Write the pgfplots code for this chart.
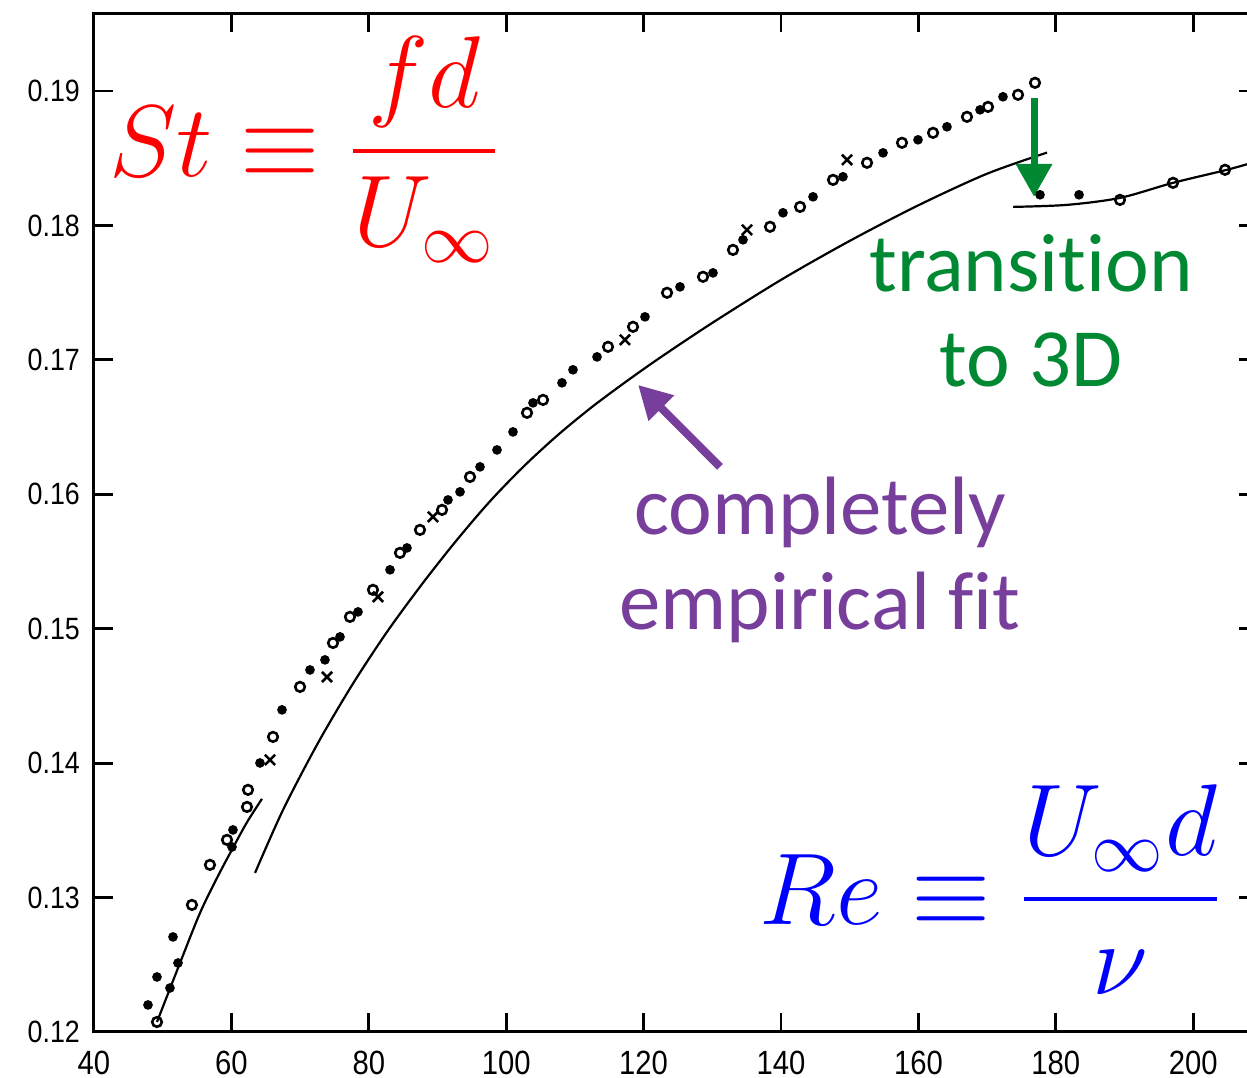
\RequirePackage{fix-cm}
\documentclass[border=0pt]{standalone}
\usepackage{exscale}
\usepackage{fontspec}
\usepackage{graphicx}
\usepackage{pgfplots}
\pgfplotsset{compat=1.18}
\usepackage{pgfplotstable}
\usetikzlibrary{arrows.meta}
\newfontfamily\annfont[Ligatures={NoCommon}]{Carlito}
\newfontfamily\tickfont{Liberation Sans}
\definecolor{annGreen}{RGB}{0,137,50}
\definecolor{annPurple}{RGB}{120,62,155}
\newcommand\ytl[1]{\scalebox{0.87}[1]{#1}}

\pgfplotstableread{
x y
49.17 0.12074
54.26 0.12945
56.88 0.13243
59.36 0.13429
62.27 0.13674
62.42 0.13801
66.06 0.14195
69.99 0.14567
74.79 0.14894
77.26 0.15088
80.61 0.15289
84.54 0.15564
87.45 0.15735
90.66 0.15884
94.73 0.16129
103.03 0.16606
105.36 0.16702
114.82 0.17097
118.46 0.17246
123.41 0.17499
128.65 0.17618
133.01 0.17818
138.40 0.17990
142.77 0.18138
147.57 0.18339
152.52 0.18466
157.61 0.18615
162.13 0.18689
167.07 0.18808
170.13 0.18882
174.50 0.18972
176.97 0.19061
189.34 0.18190
197.06 0.18317
204.63 0.18414
}\dataO

\pgfplotstableread{
x y
47.86 0.12201
49.17 0.12409
51.06 0.12327
52.23 0.12513
51.50 0.12707
60.09 0.13376
60.23 0.13503
64.16 0.14001
67.37 0.14396
71.44 0.14693
73.62 0.14768
75.81 0.14939
78.43 0.15125
83.09 0.15438
85.56 0.15601
91.53 0.15958
93.28 0.16018
96.19 0.16204
98.66 0.16330
100.99 0.16464
103.90 0.16680
108.12 0.16829
109.72 0.16926
113.22 0.17022
120.20 0.17320
125.30 0.17543
130.10 0.17647
134.47 0.17893
140.29 0.18094
144.66 0.18213
149.02 0.18362
154.85 0.18540
159.94 0.18637
164.16 0.18734
168.97 0.18860
172.31 0.18957
177.70 0.18228
183.38 0.18228
}\dataF

\pgfplotstableread{
x y
65.62 0.14024
73.92 0.14641
81.34 0.15237
89.34 0.15832
117.29 0.17149
135.05 0.17967
149.61 0.18488
}\dataX

\pgfplotstableread{
x y
49.17 0.12074
52.52 0.12513
55.43 0.12885
57.90 0.13145
60.23 0.13370
62.27 0.13560
64.45 0.13734
}\fitA

\pgfplotstableread{
x y
63.44 0.13183
67.5 0.13650
72.5 0.14140
77.5 0.14575
82.5 0.14965
87.5 0.15315
92.5 0.15640
97.5 0.15940
102.5 0.16205
107.5 0.16440
112.5 0.16650
117.5 0.16840
122.5 0.17020
130 0.17275
140 0.17595
150 0.17885
160 0.18150
170 0.18385
178.72 0.18542
}\fitB

\pgfplotstableread{
x y
173.77 0.18138
181.63 0.18153
189.34 0.18205
197.06 0.18317
204.92 0.18414
209.50 0.18480
}\fitC

\begin{document}
\begin{tikzpicture}
\begin{axis}[
  scale only axis,
  width=291.1pt, height=254.7pt,
  xmin=40, xmax=209.5, ymin=0.12, ymax=0.1958,
  clip=false,
  scaled y ticks=false,
  xtick={40,60,80,100,120,140,160,180,200},
  xticklabels={\ytl{40},\ytl{60},\ytl{80},\ytl{100},\ytl{120},\ytl{140},\ytl{160},\ytl{180},\ytl{200}},
  ytick={0.12,0.13,0.14,0.15,0.16,0.17,0.18,0.19},
  yticklabels={\ytl{0.12},\ytl{0.13},\ytl{0.14},\ytl{0.15},\ytl{0.16},\ytl{0.17},\ytl{0.18},\ytl{0.19}},
  tick align=inside,
  major tick length=4.8pt,
  tick style={line width=0.7pt, black},
  axis line style={line width=0.75pt, black},
  xticklabel style={font=\tickfont\fontsize{8.4}{10}\selectfont, yshift=-1.2pt},
  yticklabel style={font=\tickfont\fontsize{7.7}{9}\selectfont},
]
\addplot[black, line width=0.55pt, smooth] table {\fitA};
\addplot[black, line width=0.55pt, smooth] table {\fitB};
\addplot[black, line width=0.55pt, smooth] table {\fitC};
\addplot[only marks, mark=o, mark size=1.2pt, mark options={line width=0.65pt, black}] table {\dataO};
\addplot[only marks, mark=*, mark size=1.0pt, mark options={black}] table {\dataF};
\addplot[only marks, mark=x, mark size=1.8pt, mark options={line width=0.65pt, black}] table {\dataX};

\draw[annGreen, line width=1.75pt, -{Triangle[length=8.25pt,width=8.75pt]}]
  (axis cs:176.83,0.18949) -- (axis cs:176.83,0.18213);
\draw[annPurple, line width=2pt, -{Triangle[length=8.25pt,width=8.5pt]}]
  (axis cs:131.12,0.16204) -- (axis cs:119.19,0.16814);

\node[annGreen, anchor=base, inner sep=0, font=\annfont\fontsize{20.7}{24}\selectfont]
  at (axis cs:176.39,0.17506) {transition};
\node[annGreen, anchor=base, inner sep=0, font=\annfont\fontsize{20.7}{24}\selectfont]
  at (axis cs:176.39,0.16799) {to 3D};
\node[annPurple, anchor=base, inner sep=0, font=\annfont\fontsize{20.7}{24}\selectfont]
  at (axis cs:145.68,0.15698) {completely};
\node[annPurple, anchor=base, inner sep=0, font=\annfont\fontsize{20.7}{24}\selectfont]
  at (axis cs:145.68,0.14991) {empirical fit};

\node[red, anchor=base west, inner sep=0, font=\fontsize{25.5}{30}\selectfont]
  at (axis cs:42.1,0.18362) {$\displaystyle St \equiv \frac{fd}{U_\infty}$};
\node[blue, anchor=base west, inner sep=0, font=\fontsize{25.5}{30}\selectfont]
  at (axis cs:136.8,0.12796) {$\displaystyle Re \equiv \frac{U_\infty d}{\nu}$};

\coordinate (bbl) at (axis cs:26.32,0.116577);
\coordinate (bbr) at (axis cs:207.83,0.196771);
\end{axis}
\pgfresetboundingbox
\useasboundingbox (bbl) rectangle (bbr);
\end{tikzpicture}
\end{document}
